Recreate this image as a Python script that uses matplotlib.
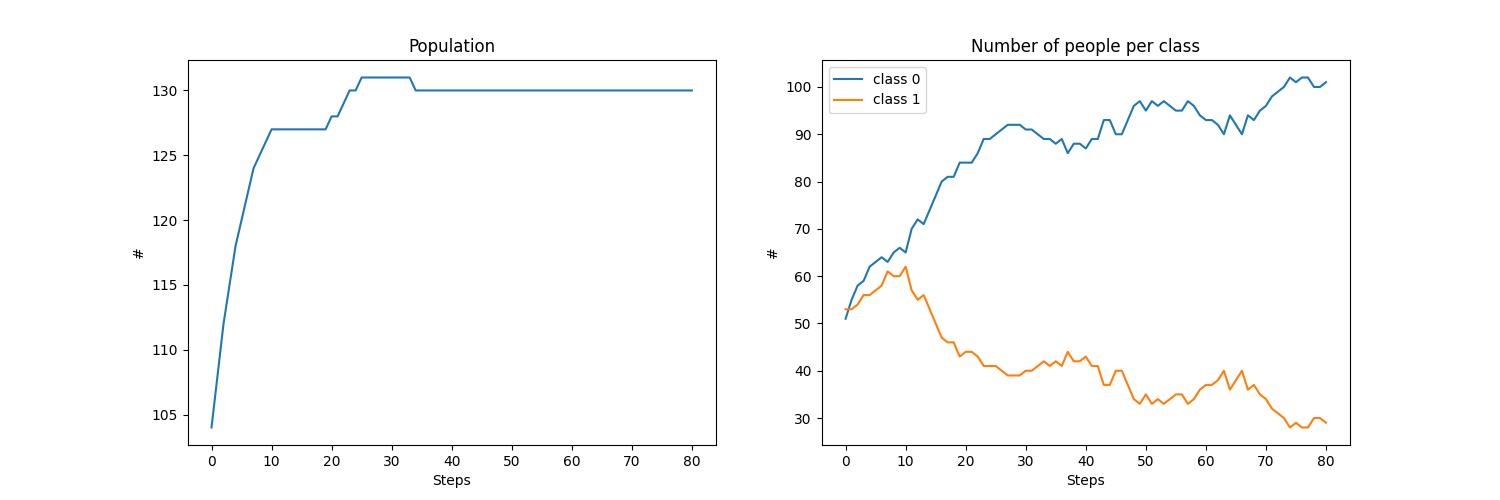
import matplotlib
matplotlib.use('Agg')
import matplotlib.pyplot as plt
import numpy as np

steps = np.arange(81)

population = ([104, 108, 112, 115, 118, 120, 122, 124, 125, 126]
              + [127] * 10 + [128, 128, 129, 130, 130] + [131] * 9 + [130] * 47)

class_0 = [51, 55, 58, 59, 62, 63, 64, 63, 65, 66, 65, 70, 72, 71, 74, 77, 80, 81, 81, 84,
           84, 84, 86, 89, 89, 90, 91, 92, 92, 92, 91, 91, 90, 89, 89, 88, 89, 86, 88, 88,
           87, 89, 89, 93, 93, 90, 90, 93, 96, 97, 95, 97, 96, 97, 96, 95, 95, 97, 96, 94,
           93, 93, 92, 90, 94, 92, 90, 94, 93, 95, 96, 98, 99, 100, 102, 101, 102, 102, 100, 100,
           101]
class_1 = [53, 53, 54, 56, 56, 57, 58, 61, 60, 60, 62, 57, 55, 56, 53, 50, 47, 46, 46, 43,
           44, 44, 43, 41, 41, 41, 40, 39, 39, 39, 40, 40, 41, 42, 41, 42, 41, 44, 42, 42,
           43, 41, 41, 37, 37, 40, 40, 37, 34, 33, 35, 33, 34, 33, 34, 35, 35, 33, 34, 36,
           37, 37, 38, 40, 36, 38, 40, 36, 37, 35, 34, 32, 31, 30, 28, 29, 28, 28, 30, 30,
           29]

fig, (ax1, ax2) = plt.subplots(1, 2, figsize=(15, 5), dpi=100)

ax1.plot(steps, population)
ax1.set_title('Population')
ax1.set_xlabel('Steps')
ax1.set_ylabel('#')

ax2.plot(steps, class_0, label='class 0')
ax2.plot(steps, class_1, label='class 1')
ax2.set_title('Number of people per class')
ax2.set_xlabel('Steps')
ax2.set_ylabel('#')
ax2.legend(loc='upper left')

plt.savefig('out.png')
